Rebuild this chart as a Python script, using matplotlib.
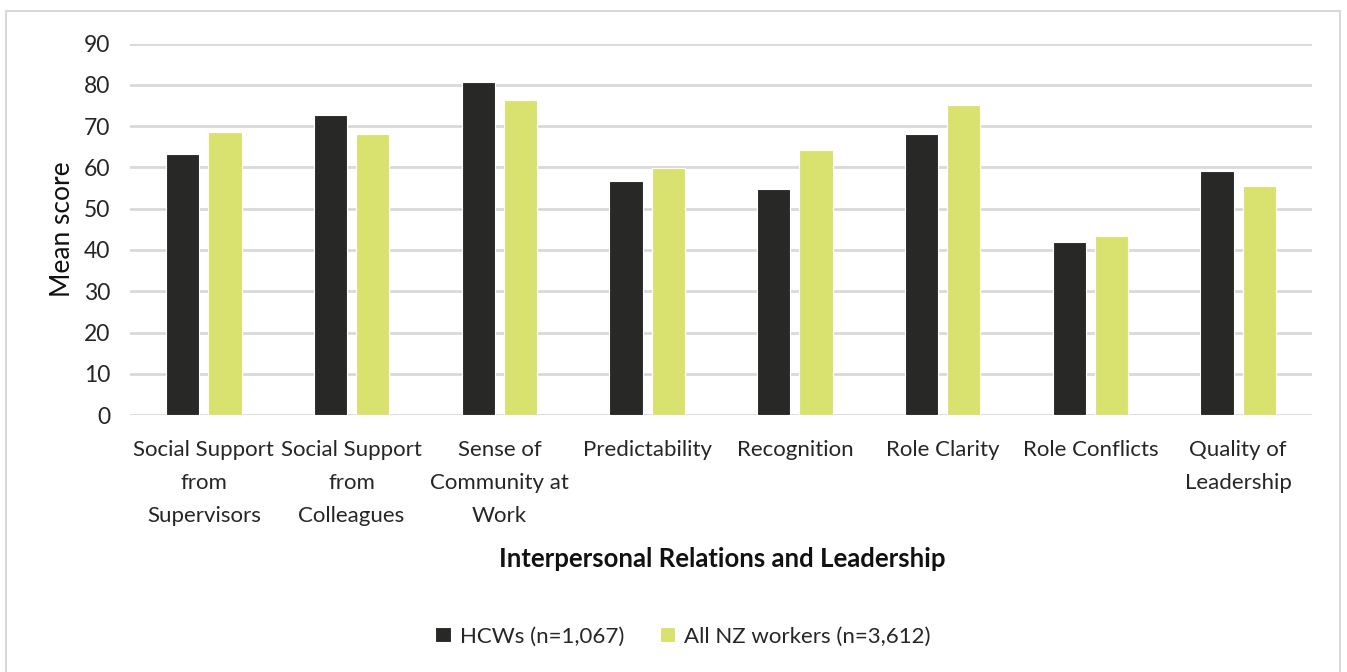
import numpy as np
import matplotlib
matplotlib.use('Agg')
import matplotlib.pyplot as plt
from matplotlib.patches import Rectangle

categories = ['Social Support\nfrom\nSupervisors', 'Social Support\nfrom\nColleagues',
              'Sense of\nCommunity at\nWork', 'Predictability', 'Recognition',
              'Role Clarity', 'Role Conflicts', 'Quality of\nLeadership']
hcw = [63.3, 72.6, 80.6, 56.8, 54.7, 68.2, 41.9, 59.2]
all_nz = [68.5, 68.2, 76.4, 59.9, 64.3, 75.1, 43.3, 55.4]
yticks = list(range(0, 100, 10))

plt.rcParams['font.family'] = ['Lato', 'DejaVu Sans']

fig = plt.figure(figsize=(13.47, 6.72), dpi=100)
ax = fig.add_axes([0.0965, 0.3824, 0.8775, 0.5526])

x = np.arange(len(categories))
w = 0.225
gap = 0.06
ax.bar(x - (w + gap) / 2, hcw, w, color='#282826', ec='white', lw=0.8,
       label='HCWs (n=1,067)', zorder=3)
ax.bar(x + (w + gap) / 2, all_nz, w, color='#d9e26f', ec='white', lw=0.8,
       label='All NZ workers (n=3,612)', zorder=3)

ax.set_xlim(-0.5, len(categories) - 0.5)
ax.set_ylim(0, 90)
ax.set_yticks(yticks)
ax.set_xticks(x)
ax.set_xticklabels(categories, fontsize=16, color='#262626', linespacing=1.8)
ax.tick_params(axis='y', length=0, pad=14, labelsize=16.5, labelcolor='#262626')
ax.tick_params(axis='x', length=0, pad=18)
ax.yaxis.grid(True, color='#d9d9d9', lw=2, zorder=0)
ax.set_axisbelow(True)
for s in ax.spines.values():
    s.set_visible(False)

fig.text(62 / 1347, 1 - 229 / 672, 'Mean score', rotation=90, fontsize=19,
         color='#111111', ha='center', va='center')
fig.text(722 / 1347, 1 - 559 / 672, 'Interpersonal Relations and Leadership',
         fontsize=18.5, fontweight='bold', color='#111111', ha='center', va='center')

fig.legend(loc='center', bbox_to_anchor=(0.507, 0.053), ncol=2, frameon=False,
           fontsize=16, handlelength=0.7, handleheight=0.7, handletextpad=0.4,
           columnspacing=1.6, labelcolor='#262626')

fig.patches.append(Rectangle((6 / 1347, -0.01), 1334 / 1347, 1 - 11 / 672 + 0.01,
                             transform=fig.transFigure, fill=False,
                             ec='#d9d9d9', lw=1.5))

fig.savefig('out.png', dpi=100)
